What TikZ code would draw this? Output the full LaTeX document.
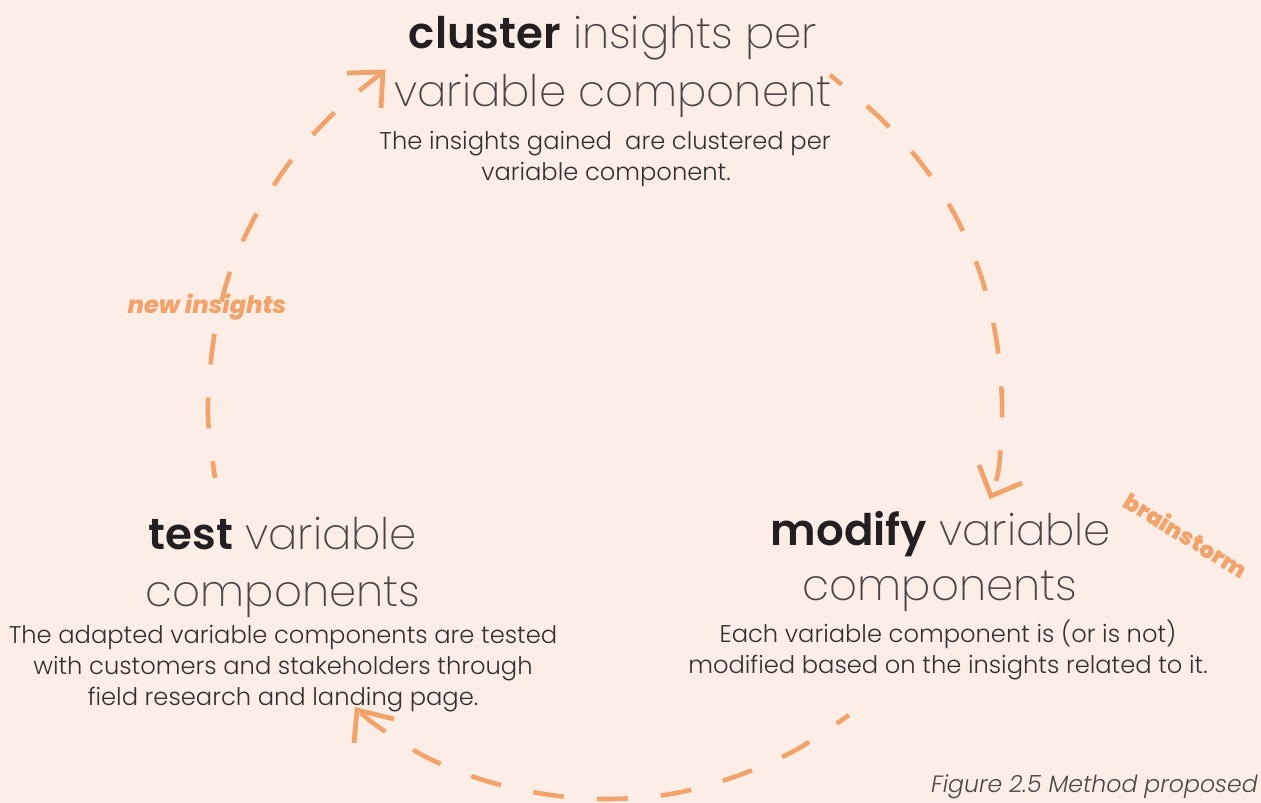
\documentclass[tikz,border=0pt]{standalone}
\usepackage{fontspec}
% pick a weight of Poppins, falling back to the regular cut when a weight is missing
\newcommand\pickfamily[3]{\IfFontExistsTF{#2}{\newfontfamily#1{#2}}{\newfontfamily#1{#3}}}
\pickfamily\hbold{Poppins SemiBold}{Poppins}
\pickfamily\hlight{Poppins ExtraLight}{Poppins}
\pickfamily\btext{Poppins Light}{Poppins}
\pickfamily\tagit{Poppins ExtraBold Italic}{Poppins}
\pickfamily\tagup{Poppins Black}{Poppins}
\pickfamily\capit{Poppins Light Italic}{Poppins}

\definecolor{paper}{HTML}{FCEEE6}
\definecolor{accent}{HTML}{F2A26B}
\definecolor{inkdark}{HTML}{231F20}
\definecolor{inklight}{HTML}{4A4647}
\definecolor{bodyink}{HTML}{333031}

\begin{document}
\begin{tikzpicture}[x=1pt,y=-1pt,
  flow/.style={draw=accent, line width=4.6pt, dash pattern=on 31pt off 33pt, dash phase=16pt},
  barb/.style={draw=accent, line width=4.8pt, line join=miter},
  heading/.style={anchor=base, inner sep=0pt, text=inklight, font=\hlight\fontsize{43.5}{50}\selectfont},
  bodytext/.style={anchor=base, inner sep=0pt, text=bodyink, font=\btext\fontsize{24.2}{30}\selectfont},
  tagtext/.style={inner sep=0pt, text=accent},
  captext/.style={anchor=base east, inner sep=0pt, text=inklight, font=\capit\fontsize{23.6}{30}\selectfont}]

% page
\fill[paper] (0,0) rectangle (1261,803);
\useasboundingbox (0,0) rectangle (1261,803);

% ---- cluster block
\node[heading] (clusterA) at (613,48) {{\hbold\color{inkdark}cluster} insights per};
\node[heading] (clusterB) at (613,106) {variable component};
\node[bodytext] (clusterC) at (605,149) {The insights gained\ \ are clustered per};
\node[bodytext] (clusterD) at (606,180) {variable component.};

% ---- modify block
\node[heading] (modifyA) at (941,545) {{\hbold\color{inkdark}modify} variable};
\node[heading] (modifyB) at (940,600) {components};
\node[bodytext] (modifyC) at (948,642) {Each variable component is (or is not)};
\node[bodytext] (modifyD) at (948,673) {modified based on the insights related to it.};

% ---- test block
\node[heading] (testA) at (283,549) {{\hbold\color{inkdark}test} variable};
\node[heading] (testB) at (283,606) {components};
\node[bodytext] (testC) at (283,643) {The adapted variable components are tested};
\node[bodytext] (testD) at (283,674) {with customers and stakeholders through};
\node[bodytext] (testE) at (283,705) {field research and landing page.};

% ---- cycle labels
\node[tagtext, anchor=base, font=\tagit\fontsize{24}{28}\selectfont] (newins) at (207,313) {new insights};
\node[tagtext, rotate=-31.5, font=\tagup\fontsize{23}{28}\selectfont] (brain) at (1186,535) {brainstorm};

% ---- caption
\node[captext] (caption) at (1258,792) {Figure 2.5 Method proposed};

% ---- cycle arcs: tail and tip of each arc
\coordinate (clusterOut) at (830,75);
\coordinate (modifyIn) at (991,496);
\coordinate (modifyOut) at (849,715);
\coordinate (testIn) at (357,710);
\coordinate (testOut) at (215,478);
\coordinate (clusterIn) at (383,72);

% cluster -> modify
\draw[flow] plot[smooth, tension=0.55] coordinates {(clusterOut) (878,116) (921,163) (956,217) (981,276) (996,338) (1002,403) (999,467) (modifyIn)};
\draw[barb] (979,465) -- (modifyIn) -- (1022,483);

% modify -> test
\draw[flow] plot[smooth, tension=0.55] coordinates {(modifyOut) (794,751) (734,777) (671,794) (606,799) (544,794) (483,780) (426,757) (380,728) (testIn)};
\draw[barb] (354,743) -- (testIn) -- (394,719);

% test -> cluster
\draw[flow, dash phase=14pt] plot[smooth, tension=0.55] coordinates {(testOut) (210,440) (208,403) (214,337) (230,272) (257,213) (293,158) (337,110) (clusterIn)};
\draw[barb] (347,73) -- (clusterIn) -- (381,108);
\end{tikzpicture}
\end{document}
